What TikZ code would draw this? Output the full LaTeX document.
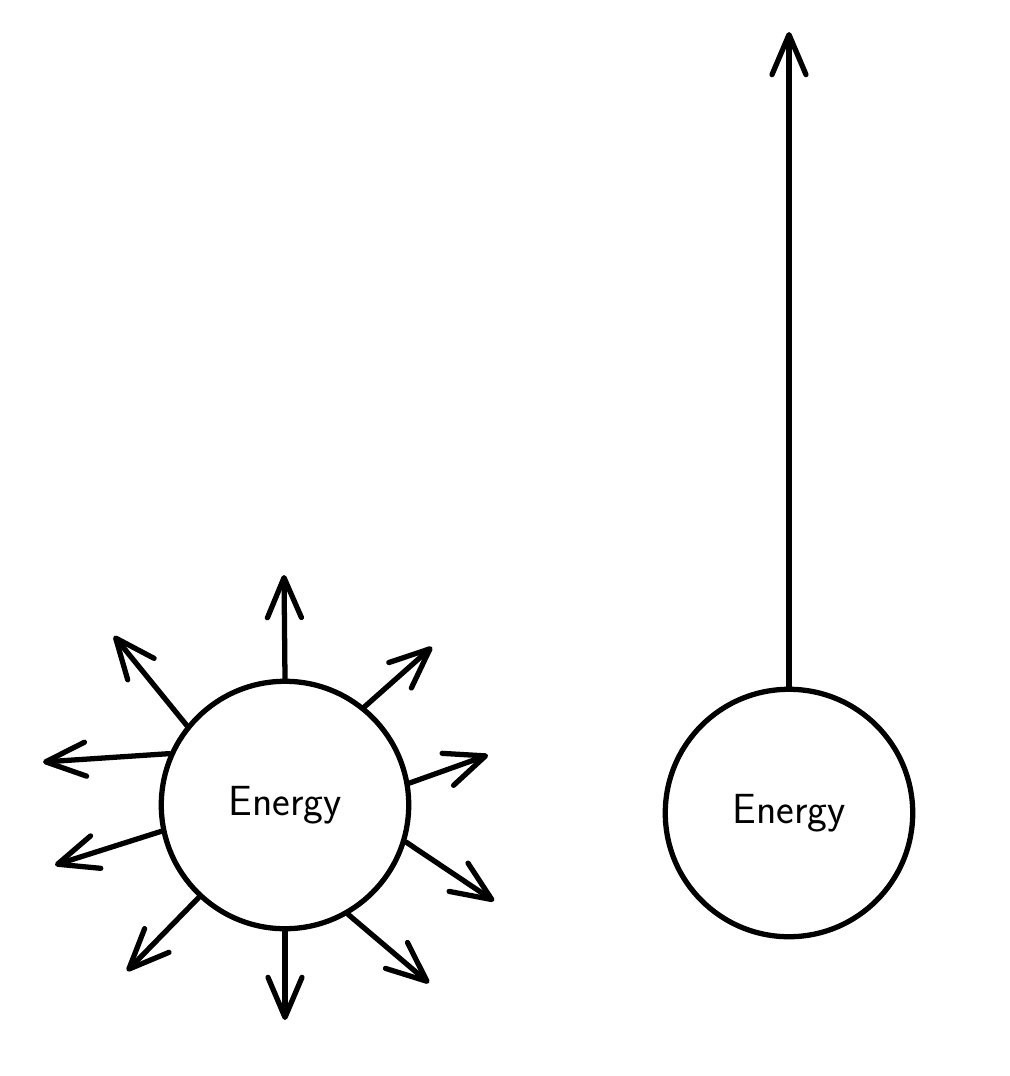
\documentclass[tikz,border=0pt]{standalone}
\usetikzlibrary{%
	arrows.meta,%
	positioning,%
}
\tikzset{
	>={Straight Barb[length=0.8cm, width=0.68cm, round]},%
	energynode/.style={%
			draw,%
			circle,%
			line width=3pt,%
			minimum size=4.95cm,%
			inner sep=0,%
			font={\sffamily\fontsize{24}{28}\selectfont}},%
	ray/.style={%
			->,%
			line width=3pt,%
			line cap=round},%
}

\begin{document}
\begin{tikzpicture}[x=0.02cm, y=-0.02cm]%
	\useasboundingbox (0,0) rectangle (1010,1076);

	\node[energynode] (spread) at (285,805) {Energy};
	\node[energynode] (focus) at (789,813) {Energy};

	\coordinate (tipA) at (284,575);
	\coordinate (tipB) at (432,647);
	\coordinate (tipC) at (488,755);
	\coordinate (tipD) at (494,901);
	\coordinate (tipE) at (429,983);
	\coordinate (tipF) at (285,1020);
	\coordinate (tipG) at (127,971);
	\coordinate (tipH) at (55,865);
	\coordinate (tipI) at (43,762);
	\coordinate (tipJ) at (114,636);
	\coordinate (tipUp) at (789,32);

	\draw[ray] (spread.90) -- (tipA);
	\draw[ray] (spread.51) -- (tipB);
	\draw[ray] (spread.10) -- (tipC);
	\draw[ray] (spread.-17) -- (tipD);
	\draw[ray] (spread.-60) -- (tipE);
	\draw[ray] (spread.-90) -- (tipF);
	\draw[ray] (spread.227) -- (tipG);
	\draw[ray] (spread.192) -- (tipH);
	\draw[ray] (spread.156) -- (tipI);
	\draw[ray] (spread.141) -- (tipJ);

	\draw[ray] (focus.north) -- (tipUp);
\end{tikzpicture}
\end{document}
